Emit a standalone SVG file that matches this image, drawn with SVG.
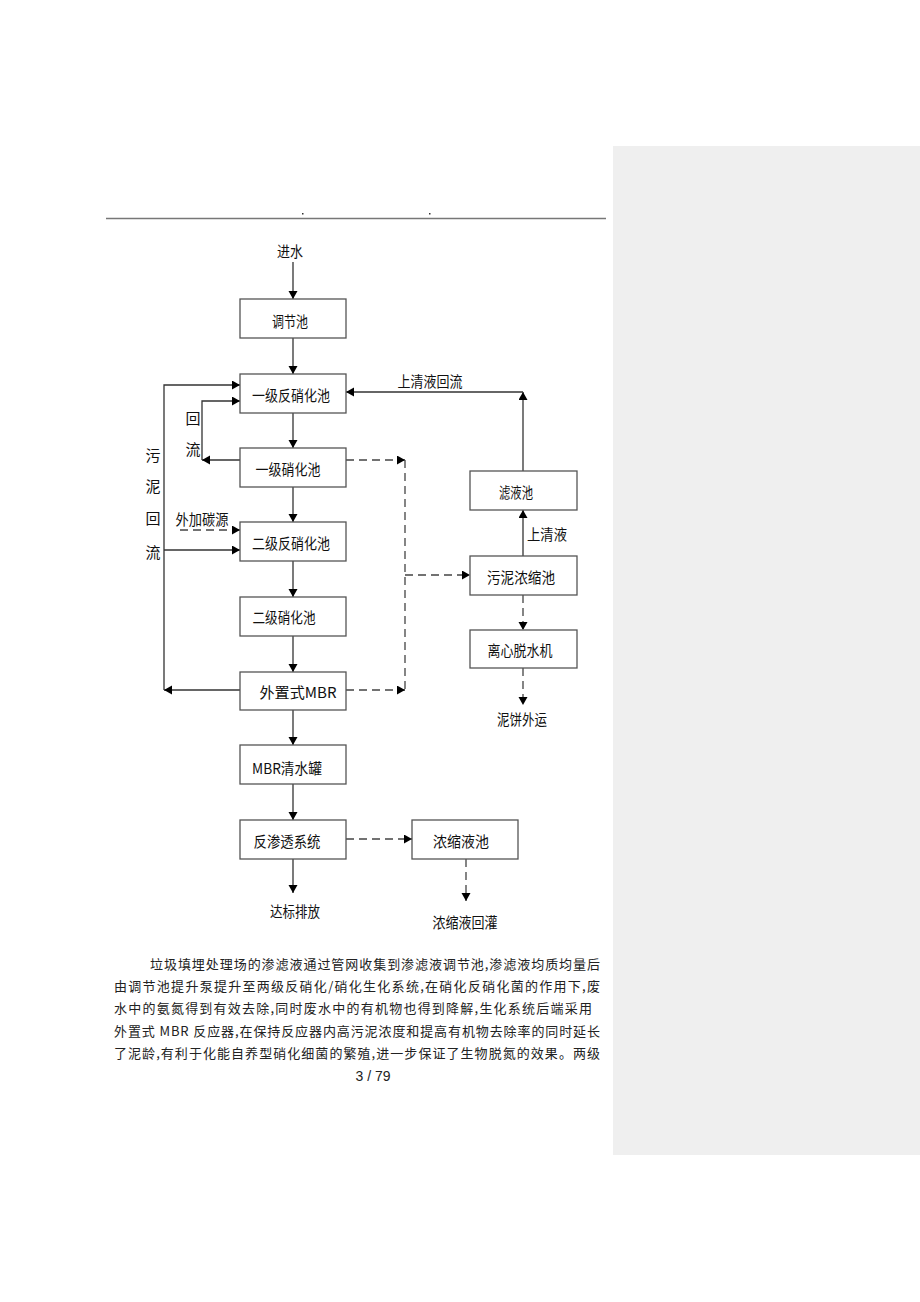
<svg xmlns="http://www.w3.org/2000/svg" width="920" height="1302" viewBox="0 0 920 1302">
<style>
.box{fill:#fff;stroke:#555;stroke-width:1.3}
.ln{fill:none;stroke:#333;stroke-width:1.3}
.dl{fill:none;stroke:#444;stroke-width:1.3;stroke-dasharray:8 5}
.t{font-family:"Noto Sans CJK SC","Noto Sans",sans-serif;font-size:15px;fill:#111;text-anchor:middle;dominant-baseline:central}
.p{font-family:"Noto Sans CJK SC","Noto Sans",sans-serif;font-size:13px;fill:#222;dominant-baseline:central}
</style>
<defs>
<marker id="ah" markerUnits="userSpaceOnUse" markerWidth="10" markerHeight="10" refX="8" refY="4.5" orient="auto">
<path d="M0,0 L8,4.5 L0,9 Z" fill="#000"/>
</marker>
</defs>
<rect x="0" y="0" width="920" height="1302" fill="#fff"/>
<rect x="613" y="146" width="307" height="1009" fill="#efefef"/>
<line x1="106" y1="218.5" x2="606" y2="218.5" stroke="#777" stroke-width="1.5"/>
<rect x="302" y="213" width="1.5" height="1.5" fill="#333"/>
<rect x="429" y="213" width="1.5" height="1.5" fill="#333"/>

<g id="connectors">
<line class="ln" x1="293" y1="262" x2="293" y2="299" marker-end="url(#ah)"/>
<line class="ln" x1="293" y1="338" x2="293" y2="374" marker-end="url(#ah)"/>
<line class="ln" x1="293" y1="413" x2="293" y2="448" marker-end="url(#ah)"/>
<line class="ln" x1="293" y1="487" x2="293" y2="522" marker-end="url(#ah)"/>
<line class="ln" x1="293" y1="561" x2="293" y2="597" marker-end="url(#ah)"/>
<line class="ln" x1="293" y1="636" x2="293" y2="672" marker-end="url(#ah)"/>
<line class="ln" x1="293" y1="710" x2="293" y2="745" marker-end="url(#ah)"/>
<line class="ln" x1="293" y1="784" x2="293" y2="820" marker-end="url(#ah)"/>
<line class="ln" x1="293" y1="859" x2="293" y2="893" marker-end="url(#ah)"/>
<line class="ln" x1="240" y1="460" x2="202" y2="460" marker-end="url(#ah)"/>
<polyline class="ln" points="202,460 202,401 240,401" marker-end="url(#ah)"/>
<line class="ln" x1="240" y1="690" x2="164" y2="690" marker-end="url(#ah)"/>
<polyline class="ln" points="164,690 164,385 240,385" marker-end="url(#ah)"/>
<line class="ln" x1="164" y1="550" x2="240" y2="550" marker-end="url(#ah)"/>
<line class="dl" x1="180" y1="530" x2="240" y2="530" marker-end="url(#ah)"/>
<line class="ln" x1="523" y1="471" x2="523" y2="392" marker-end="url(#ah)"/>
<line class="ln" x1="523" y1="392" x2="346" y2="392" marker-end="url(#ah)"/>
<line class="ln" x1="523" y1="556" x2="523" y2="510" marker-end="url(#ah)"/>
<line class="dl" x1="346" y1="460" x2="405" y2="460" marker-end="url(#ah)"/>
<line class="dl" x1="346" y1="690" x2="405" y2="690" marker-end="url(#ah)"/>
<line class="dl" x1="405" y1="460" x2="405" y2="690"/>
<line class="dl" x1="405" y1="575" x2="470" y2="575" marker-end="url(#ah)"/>
<line class="dl" x1="523" y1="595" x2="523" y2="630" marker-end="url(#ah)"/>
<line class="dl" x1="523" y1="668" x2="523" y2="705" marker-end="url(#ah)"/>
<line class="dl" x1="346" y1="839" x2="412" y2="839" marker-end="url(#ah)"/>
<line class="dl" x1="466" y1="859" x2="466" y2="901" marker-end="url(#ah)"/>
</g>

<g id="labels">
<text class="t" x="290" y="250" textLength="26" lengthAdjust="spacingAndGlyphs">进水</text>
<text class="t" x="193" y="417">回</text>
<text class="t" x="193" y="448">流</text>
<text class="t" x="153" y="454">污</text>
<text class="t" x="153" y="485">泥</text>
<text class="t" x="153" y="517">回</text>
<text class="t" x="153" y="551">流</text>
<text class="t" x="202" y="518" textLength="53" lengthAdjust="spacingAndGlyphs">外加碳源</text>
<text class="t" x="430" y="380" textLength="65" lengthAdjust="spacingAndGlyphs">上清液回流</text>
<text class="t" x="547" y="533" textLength="40" lengthAdjust="spacingAndGlyphs">上清液</text>
<text class="t" x="522" y="718" textLength="50" lengthAdjust="spacingAndGlyphs">泥饼外运</text>
<text class="t" x="295" y="910" textLength="50" lengthAdjust="spacingAndGlyphs">达标排放</text>
<text class="t" x="465" y="921" textLength="65" lengthAdjust="spacingAndGlyphs">浓缩液回灌</text>
</g>

<g id="n1"><rect class="box" x="240" y="299" width="106" height="39"/><text class="t" x="290" y="320" textLength="36" lengthAdjust="spacingAndGlyphs">调节池</text></g>
<g id="n2"><rect class="box" x="240" y="374" width="106" height="39"/><text class="t" x="291" y="394" textLength="78" lengthAdjust="spacingAndGlyphs">一级反硝化池</text></g>
<g id="n3"><rect class="box" x="240" y="448" width="106" height="39"/><text class="t" x="288" y="468" textLength="65" lengthAdjust="spacingAndGlyphs">一级硝化池</text></g>
<g id="n4"><rect class="box" x="240" y="522" width="106" height="39"/><text class="t" x="291" y="542" textLength="78" lengthAdjust="spacingAndGlyphs">二级反硝化池</text></g>
<g id="n5"><rect class="box" x="240" y="597" width="106" height="39"/><text class="t" x="284" y="616" textLength="63" lengthAdjust="spacingAndGlyphs">二级硝化池</text></g>
<g id="n6"><rect class="box" x="240" y="672" width="106" height="38"/><text class="t" x="298" y="691" textLength="77" lengthAdjust="spacingAndGlyphs">外置式MBR</text></g>
<g id="n7"><rect class="box" x="240" y="745" width="106" height="39"/><text class="t" x="287" y="767" textLength="70" lengthAdjust="spacingAndGlyphs">MBR清水罐</text></g>
<g id="n8"><rect class="box" x="240" y="820" width="106" height="39"/><text class="t" x="287" y="840" textLength="67" lengthAdjust="spacingAndGlyphs">反渗透系统</text></g>
<g id="n9"><rect class="box" x="412" y="820" width="106" height="39"/><text class="t" x="461" y="840" textLength="56" lengthAdjust="spacingAndGlyphs">浓缩液池</text></g>
<g id="n10"><rect class="box" x="470" y="471" width="107" height="39"/><text class="t" x="516" y="491" textLength="34" lengthAdjust="spacingAndGlyphs">滤液池</text></g>
<g id="n11"><rect class="box" x="470" y="556" width="107" height="39"/><text class="t" x="521" y="576" textLength="68" lengthAdjust="spacingAndGlyphs">污泥浓缩池</text></g>
<g id="n12"><rect class="box" x="470" y="630" width="107" height="38"/><text class="t" x="520" y="649" textLength="65" lengthAdjust="spacingAndGlyphs">离心脱水机</text></g>

<g id="paragraph">
<text class="p" x="150" y="963" textLength="450" lengthAdjust="spacing">垃圾填埋处理场的渗滤液通过管网收集到渗滤液调节池,渗滤液均质均量后</text>
<text class="p" x="114" y="985" textLength="486" lengthAdjust="spacing">由调节池提升泵提升至两级反硝化/硝化生化系统,在硝化反硝化菌的作用下,废</text>
<text class="p" x="114" y="1007" textLength="478" lengthAdjust="spacing">水中的氨氮得到有效去除,同时废水中的有机物也得到降解,生化系统后端采用</text>
<text class="p" x="114" y="1030" textLength="486" lengthAdjust="spacing">外置式 MBR 反应器,在保持反应器内高污泥浓度和提高有机物去除率的同时延长</text>
<text class="p" x="114" y="1052" textLength="486" lengthAdjust="spacing">了泥龄,有利于化能自养型硝化细菌的繁殖,进一步保证了生物脱氮的效果。两级</text>
<text x="373" y="1076" font-family="Liberation Sans, Arial, sans-serif" font-size="14" fill="#222" text-anchor="middle" dominant-baseline="central">3 / 79</text>
</g>
</svg>
